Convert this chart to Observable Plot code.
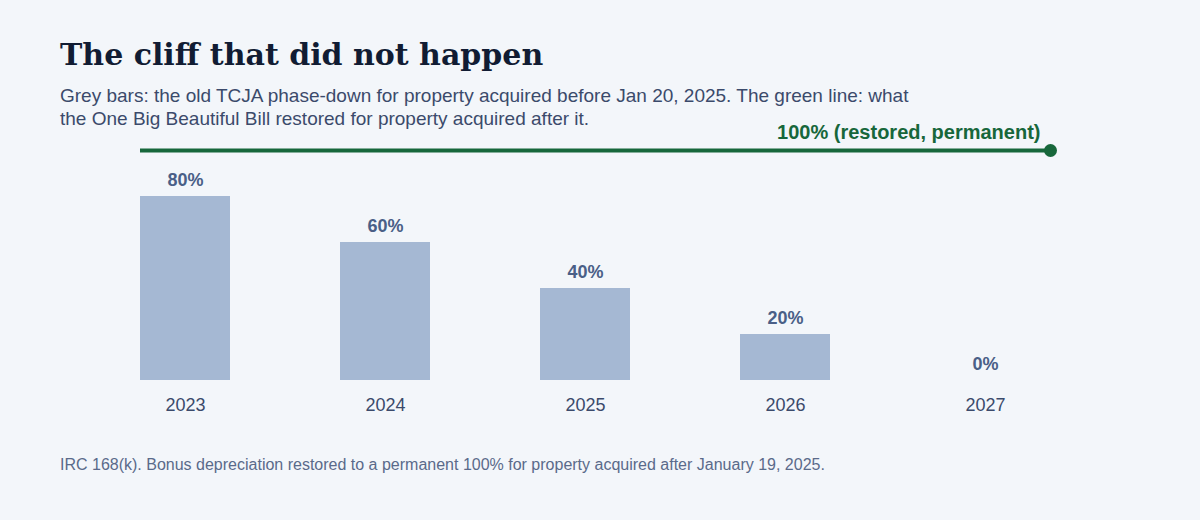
<!DOCTYPE html>
<html>
<head>
<meta charset="utf-8">
<script src="https://cdn.jsdelivr.net/npm/d3@7"></script>
<script src="https://cdn.jsdelivr.net/npm/@observablehq/plot@0.6"></script>
<style>
  html, body { margin: 0; padding: 0; background: #f3f6fa; }
  body { width: 1200px; height: 520px; position: relative; overflow: hidden; font-family: "Liberation Sans", Arial, sans-serif; }
  #title { position: absolute; left: 60px; top: 35px; margin: 0; font-family: "DejaVu Serif", Georgia, serif; font-weight: bold; font-size: 30px; line-height: 40px; color: #111c33; }
  #subtitle { position: absolute; left: 60px; top: 85px; width: 862px; margin: 0; font-size: 19px; line-height: 22.7px; color: #3b4a6b; }
  #chart { position: absolute; left: 0; top: 110px; }
  #caption { position: absolute; left: 60px; top: 455px; margin: 0; font-size: 16px; line-height: 20px; color: #5a6a8a; }
</style>
</head>
<body>
<h1 id="title">The cliff that did not happen</h1>
<p id="subtitle">Grey bars: the old TCJA phase-down for property acquired before Jan 20, 2025. The green line: what the One Big Beautiful Bill restored for property acquired after it.</p>
<div id="chart"></div>
<p id="caption">IRC 168(k). Bonus depreciation restored to a permanent 100% for property acquired after January 19, 2025.</p>
<script>
const years = ["2023", "2024", "2025", "2026", "2027"];
const oldRates = [80, 60, 40, 20, 0];
const restoredRate = 100;
const restoredLabel = "100% (restored, permanent)";

const data = years.map((y, i) => ({year: y, rate: oldRates[i]}));

const chart = Plot.plot({
  width: 1200,
  height: 318,
  marginLeft: 140,
  marginRight: 150,
  marginTop: 40,
  marginBottom: 48,
  style: {background: "transparent", fontFamily: "Liberation Sans, Arial, sans-serif", overflow: "visible"},
  x: {domain: years, paddingInner: 0.55, paddingOuter: 0.05, align: 0, label: null},
  y: {domain: [0, 100], axis: null},
  marks: [
    Plot.barY(data, {x: "year", y: "rate", fill: "#a5b8d3"}),
    Plot.text(data, {x: "year", y: "rate", text: d => d.rate + "%", dy: -16, fontSize: 18, fontWeight: "bold", fill: "#4a5f87"}),
    Plot.ruleY([restoredRate], {stroke: "#17673b", strokeWidth: 4}),
    Plot.dot([restoredRate], {y: d => d, frameAnchor: "right", r: 6.5, fill: "#17673b"}),
    Plot.text([restoredRate], {y: d => d, frameAnchor: "right", text: () => restoredLabel, dy: -18, dx: -10, textAnchor: "end", fontSize: 20, fontWeight: "bold", fill: "#17673b"}),
    Plot.axisX({tickSize: 0, tickPadding: 18, fontSize: 18, color: "#3b4a6b", label: null})
  ]
});
document.getElementById("chart").appendChild(chart);
</script>
</body>
</html>
